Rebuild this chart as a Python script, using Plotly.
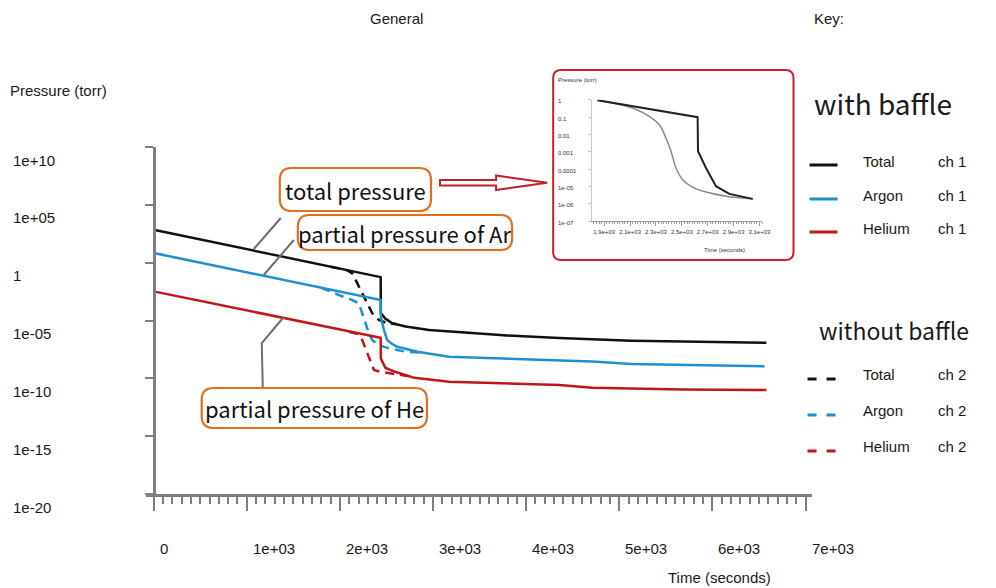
import plotly.graph_objects as go

# ---------------- data ----------------
t_total_ch1 = [0, 2438, 2440, 2487, 2563, 2706, 2957, 3172, 3800, 4355, 5129, 5677, 6290, 6580]
p_total_ch1 = [708, 0.056, 4.5e-5, 1.5e-5, 5.8e-6, 3.0e-6, 1.5e-6, 1.1e-6, 5.0e-7, 3.1e-7, 1.8e-7, 1.5e-7, 1.2e-7, 1.2e-7]

t_total_ch2 = [1900, 2079, 2133, 2186, 2240, 2294, 2348, 2419, 2509, 2600]
p_total_ch2 = [0.44, 0.22, 0.12, 0.017, 2.2e-3, 3.1e-4, 4.2e-5, 1.1e-5, 5.8e-6, 4.9e-6]

t_argon_ch1 = [0, 2438, 2440, 2473, 2509, 2563, 2617, 2832, 3172, 4355, 4710, 5129, 5677, 6258, 6559]
p_argon_ch1 = [6.9, 5.9e-4, 2.1e-5, 1.5e-6, 2.0e-7, 9.3e-8, 5.4e-8, 2.0e-8, 7.4e-9, 3.8e-9, 2.8e-9, 1.7e-9, 1.4e-9, 1.1e-9, 1.1e-9]

t_argon_ch2 = [1800, 1882, 1989, 2132, 2204, 2240, 2276, 2312, 2348, 2419, 2527, 2706, 2900]
p_argon_ch2 = [6.8e-3, 3.5e-3, 1.6e-3, 5.9e-4, 3.1e-4, 4.2e-5, 5.8e-6, 7.8e-7, 2.0e-7, 7.6e-8, 3.9e-8, 2.0e-8, 1.6e-8]

t_helium_ch1 = [0, 2438, 2440, 2490, 2600, 2800, 3172, 4355, 4710, 5180, 5677, 6580]
p_helium_ch1 = [3.3e-3, 3.2e-7, 5.0e-9, 7.9e-10, 3.5e-10, 1.1e-10, 5.1e-11, 2.6e-11, 1.5e-11, 1.2e-11, 1.1e-11, 9.8e-12]

t_helium_ch2 = [2100, 2186, 2240, 2294, 2330, 2366, 2438, 2530, 2780]
p_helium_ch2 = [1.0e-6, 7.2e-7, 2.0e-7, 1.4e-8, 2.0e-9, 5.2e-10, 3.7e-10, 2.8e-10, 1.35e-10]

# inset (zoomed total pressure)
inset_t_black = [1848, 2622, 2625, 2648, 2687, 2764, 2867, 3048]
inset_p_black = [0.93, 0.098, 1.07e-3, 4.5e-4, 1.17e-4, 1.05e-5, 3.8e-6, 1.95e-6]
inset_t_gray = [1848, 1990, 2119, 2248, 2326, 2377, 2416, 2455, 2506, 2583, 2687, 2842, 3048]
inset_p_gray = [0.93, 0.59, 0.33, 0.11, 0.036, 6.3e-3, 1.07e-3, 1.17e-4, 2.5e-5, 9.3e-6, 4.8e-6, 2.8e-6, 1.95e-6]

# ticks
x_tickvals = [0, 1000, 2000, 3000, 4000, 5000, 6000, 7000]
x_ticktext = ["0", "1e+03", "2e+03", "3e+03", "4e+03", "5e+03", "6e+03", "7e+03"]
y_tickexp = [10, 5, 0, -5, -10, -15, -20]
y_ticktext = ["1e+10", "1e+05", "1", "1e-05", "1e-10", "1e-15", "1e-20"]
inset_x_tickvals = [1900, 2100, 2300, 2500, 2700, 2900, 3100]
inset_x_ticktext = ["1.9e+03", "2.1e+03", "2.3e+03", "2.5e+03", "2.7e+03", "2.9e+03", "3.1e+03"]
inset_y_tickexp = [0, -1, -2, -3, -4, -5, -6, -7]
inset_y_ticktext = ["1", "0.1", "0.01", "0.001", "0.0001", "1e-05", "1e-06", "1e-07"]

# ---------------- helpers ----------------
W, H = 996, 588
def px(x):
    return min(1.0, max(0.0, (x * 1.0105 - 1.6) / W))
def py(y):
    return 1 - y / H

BLACK = "#111111"
BLUE = "#1f8fcf"
RED = "#c0151b"
ORANGE = "#e0701c"
AXIS = "#808080"
FONT = "Liberation Sans, Arial, sans-serif"
KFONT = "Noto Sans CJK KR, Noto Sans, sans-serif"

fig = go.Figure()

def add_line(t, p, color, dash=None, xa="x", ya="y", width=2.5, shape="linear"):
    fig.add_trace(go.Scatter(x=t, y=p, mode="lines", xaxis=xa, yaxis=ya,
                             line=dict(color=color, width=width, dash=dash, shape=shape),
                             showlegend=False, hoverinfo="skip"))

DASH = "9px,6px"
add_line(t_total_ch2, p_total_ch2, BLACK, DASH)
add_line(t_argon_ch2, p_argon_ch2, BLUE, DASH)
add_line(t_helium_ch2, p_helium_ch2, RED, DASH)
add_line(t_total_ch1, p_total_ch1, BLACK)
add_line(t_argon_ch1, p_argon_ch1, BLUE)
add_line(t_helium_ch1, p_helium_ch1, RED)

add_line(inset_t_gray, inset_p_gray, "#8a8a8a", None, "x2", "y2", 1.5, "spline")
add_line(inset_t_black, inset_p_black, "#222222", None, "x2", "y2", 2.0)

# ---------------- layout ----------------
x0_px, x1_px = 147, 812
zero_px, per1000 = 155, 93.0
xr = [(x0_px - zero_px) / per1000 * 1000, (x1_px - zero_px) / per1000 * 1000]

ix0, ix1 = 593, 763
i_t0_px, i_per200 = 605, 25.83
ixr = [1900 + (ix0 - i_t0_px) / i_per200 * 200, 1900 + (ix1 - i_t0_px) / i_per200 * 200]

fig.update_layout(
    width=W, height=H, margin=dict(l=0, r=0, t=0, b=0),
    paper_bgcolor="white", plot_bgcolor="rgba(0,0,0,0)",
    showlegend=False,
    xaxis=dict(domain=[px(x0_px), px(x1_px)], range=xr, anchor="y",
               showgrid=False, zeroline=False, showline=True, linecolor=AXIS, linewidth=3,
               ticks="outside", ticklen=14, tickwidth=2, tickcolor=AXIS,
               tickmode="array", tickvals=x_tickvals, showticklabels=False,
               minor=dict(tick0=0, dtick=100, ticks="outside", ticklen=7, tickwidth=1.5, tickcolor=AXIS)),
    yaxis=dict(type="log", domain=[py(494), py(147)], range=[-20, 10], anchor="free",
               position=px(155), showgrid=False, zeroline=False, showline=True,
               linecolor=AXIS, linewidth=2.5, ticks="outside", ticklen=8, tickwidth=2,
               tickcolor=AXIS, tickmode="array", tickvals=[10 ** e for e in y_tickexp],
               showticklabels=False),
    xaxis2=dict(domain=[px(ix0), px(ix1)], range=ixr, anchor="y2",
                showgrid=False, zeroline=False, showline=True, linecolor="#9a9a9a", linewidth=1.2,
                ticks="outside", ticklen=4, tickwidth=1, tickcolor="#9a9a9a",
                tickmode="array", tickvals=inset_x_tickvals, ticktext=inset_x_ticktext,
                tickfont=dict(family=FONT, size=6, color="#333"),
                minor=dict(tick0=1900, dtick=20, ticks="outside", ticklen=2, tickwidth=0.8, tickcolor="#9a9a9a")),
    yaxis2=dict(type="log", domain=[py(221.3), py(99.7)], range=[-7, 0], anchor="x2",
                showgrid=False, zeroline=False, showline=True, linecolor="#c8c8c8", linewidth=1,
                ticks="outside", ticklen=3, tickwidth=1, tickcolor="#c8c8c8",
                tickmode="array", tickvals=[10 ** e for e in inset_y_tickexp], showticklabels=False),
)

ann = []
def text(x, y, s, size=15, anchor="left", family=FONT, color="#1a1a1a"):
    ann.append(dict(x=px(x), y=py(y), xref="paper", yref="paper", text=s, showarrow=False,
                    xanchor=anchor, yanchor="middle", font=dict(family=family, size=size, color=color)))

# main tick labels
for e, s in zip(y_tickexp, y_ticktext):
    ann.append(dict(x=px(13), y=e, xref="paper", yref="y", text=s, showarrow=False,
                    xanchor="left", yanchor="middle", yshift=-13,
                    font=dict(family=FONT, size=15, color="#1a1a1a")))
for v, s in zip(x_tickvals, x_ticktext):
    ann.append(dict(x=v, y=py(548), xref="x", yref="paper", text=s, showarrow=False,
                    xanchor="left", yanchor="middle", xshift=4,
                    font=dict(family=FONT, size=15, color="#1a1a1a")))
# inset y tick labels
for e, s in zip(inset_y_tickexp, inset_y_ticktext):
    ann.append(dict(x=px(557), y=e, xref="paper", yref="y2", text=s, showarrow=False,
                    xanchor="left", yanchor="middle", yshift=-1.5,
                    font=dict(family=FONT, size=6, color="#333")))

text(398, 18, "General", anchor="center")
text(812, 18, "Key:")
text(10, 90, "Pressure (torr)")
text(720, 577, "Time (seconds)", anchor="center")
text(557, 80, "Pressure (torr)", size=6, color="#333")
text(725, 250, "Time (seconds)", size=6, anchor="center", color="#333")

# legend
text(812, 103, "with baffle", size=28, family=KFONT)
text(817, 330, "without baffle", size=23, family=KFONT)
shapes = []
for y, name, col in [(161, "Total", BLACK), (195, "Argon", BLUE), (228, "Helium", RED)]:
    text(861, y, name)
    text(936, y, "ch 1")
    shapes.append(dict(type="line", xref="paper", yref="paper", x0=px(810), x1=px(838),
                       y0=py(y + 4), y1=py(y + 4), line=dict(color=col, width=3)))
for y, name, col in [(374, "Total", BLACK), (410, "Argon", BLUE), (446, "Helium", RED)]:
    text(861, y, name)
    text(936, y, "ch 2")
    for a, b in [(808, 817), (827, 836)]:
        shapes.append(dict(type="line", xref="paper", yref="paper", x0=px(a), x1=px(b),
                           y0=py(y + 5), y1=py(y + 5), line=dict(color=col, width=3)))

def rrect(x0, y0, x1, y1, r):
    X0, X1 = px(x0), px(x1)
    Y0, Y1 = py(y0), py(y1)
    rx, ry = r / W, r / H
    return (f"M {X0+rx},{Y0} L {X1-rx},{Y0} Q {X1},{Y0} {X1},{Y0-ry} "
            f"L {X1},{Y1+ry} Q {X1},{Y1} {X1-rx},{Y1} L {X0+rx},{Y1} "
            f"Q {X0},{Y1} {X0},{Y1+ry} L {X0},{Y0-ry} Q {X0},{Y0} {X0+rx},{Y0} Z")

def seg(pts, color="#6e6e6e", width=2):
    path = "M " + " L ".join(f"{px(x)},{py(y)}" for x, y in pts)
    shapes.append(dict(type="path", xref="paper", yref="paper", path=path,
                       line=dict(color=color, width=width)))

# inset frame
shapes.append(dict(type="path", xref="paper", yref="paper", path=rrect(554, 70, 794, 260, 8),
                   line=dict(color="#c8202c", width=2), fillcolor="rgba(0,0,0,0)", layer="above"))

# connectors
seg([(282, 218), (255, 249)])
seg([(295, 240), (265, 275)])
seg([(285, 317), (263, 343), (264, 388)])

# callout boxes
for (x0, y0, x1, y1), s in [((281, 168, 432, 211), "total pressure"),
                            ((299, 215, 513, 250), "partial pressure of Ar"),
                            ((203, 388, 428, 428), "partial pressure of He")]:
    shapes.append(dict(type="path", xref="paper", yref="paper", path=rrect(x0, y0, x1, y1, 12),
                       line=dict(color=ORANGE, width=2.2), fillcolor="white", layer="above"))
    text((x0 + x1) / 2, (y0 + y1) / 2, s, size=22, anchor="center", family=KFONT, color="#111")

# hollow arrow
arrow = [(441, 180), (497, 180), (497, 175.5), (548, 182.7), (497, 190), (497, 185.5), (441, 185.5)]
shapes.append(dict(type="path", xref="paper", yref="paper",
                   path="M " + " L ".join(f"{px(x)},{py(y)}" for x, y in arrow) + " Z",
                   line=dict(color="#c0202a", width=2), fillcolor="white", layer="above"))

fig.update_layout(annotations=ann, shapes=shapes)

fig.write_html("out.html", config={"displayModeBar": False},
               post_script="document.body.style.margin='0';document.body.style.overflow='hidden';")
